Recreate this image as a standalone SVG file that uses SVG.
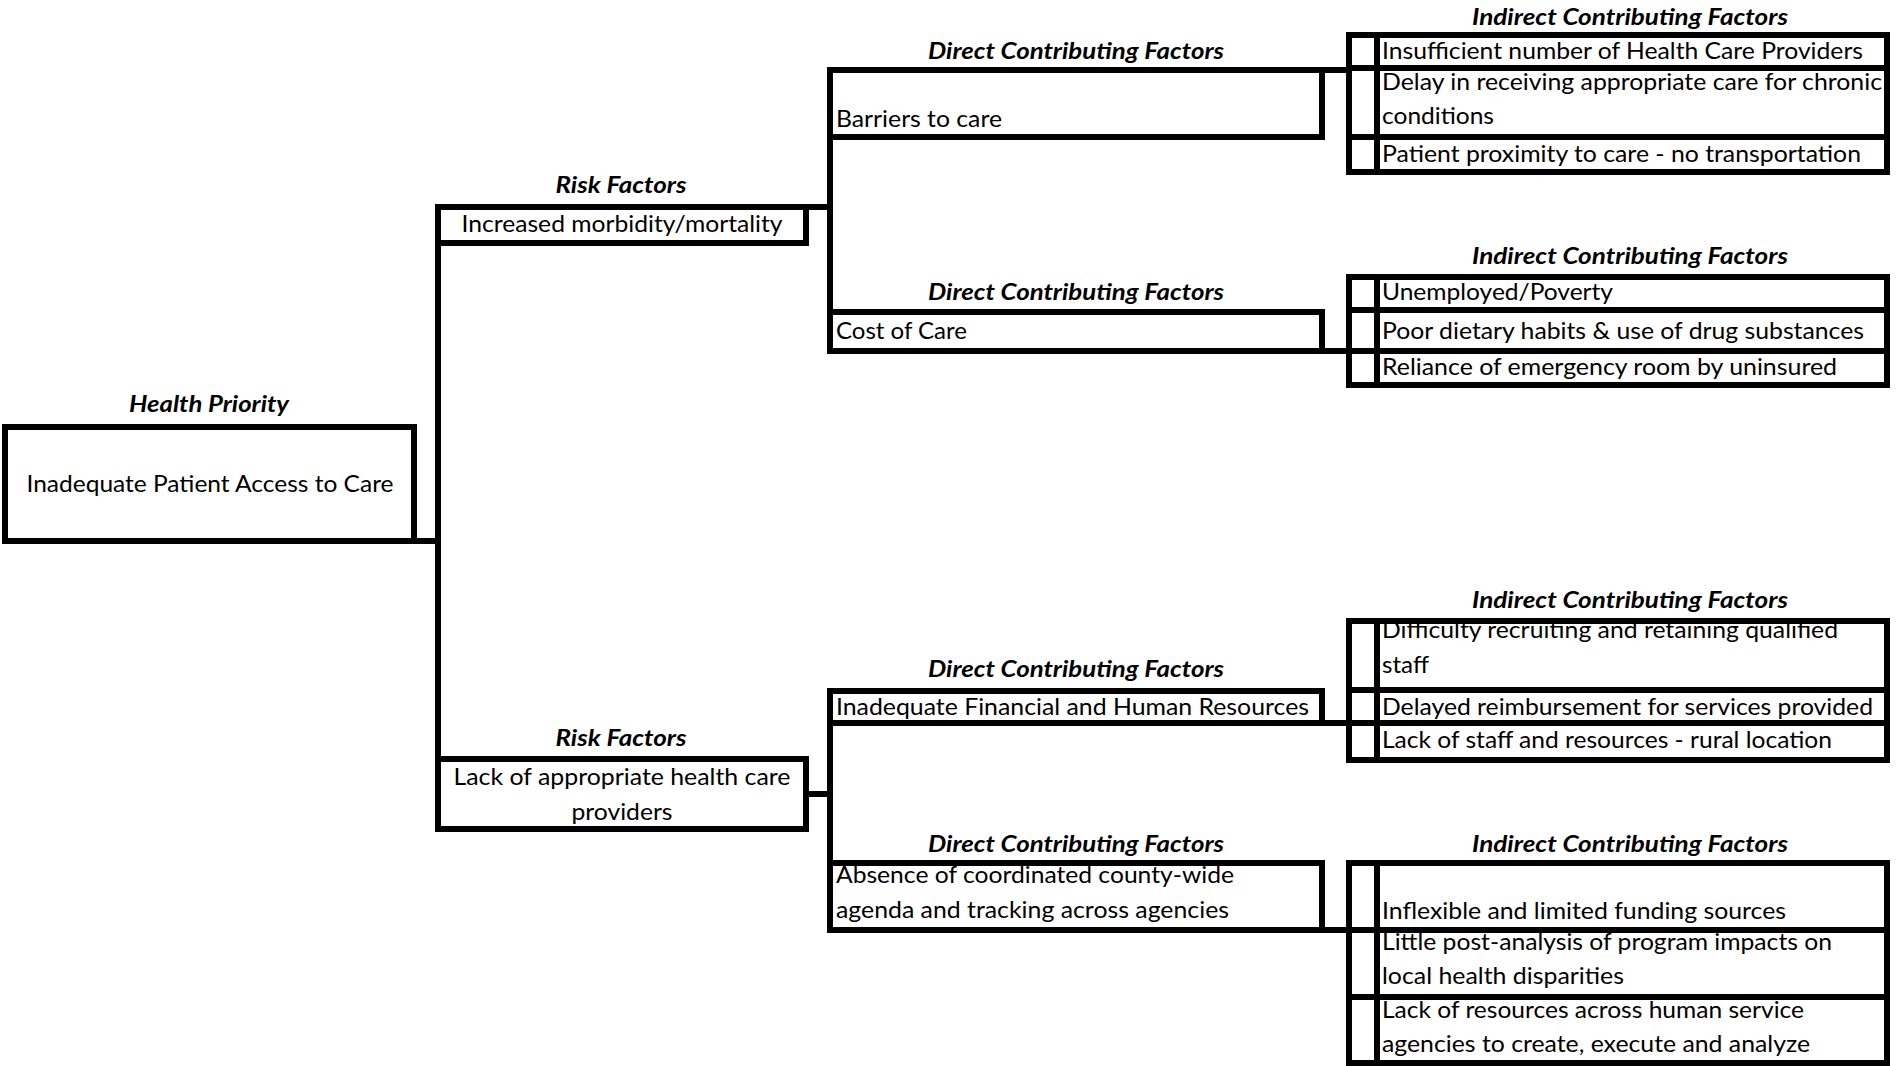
<svg xmlns="http://www.w3.org/2000/svg" width="1897" height="1066" viewBox="0 0 1897 1066">
<style>
.box{fill:#fff;stroke:#000;stroke-width:6}
.ln{fill:none;stroke:#000;stroke-width:6;stroke-linecap:square}
.t{font-family:Lato,"Open Sans",sans-serif;font-size:23px;fill:#000}
.h{font-family:Lato,"Open Sans",sans-serif;font-size:22px;font-weight:bold;font-style:italic;fill:#000}
.c{text-anchor:middle}
</style>
<defs>
<clipPath id="cp-i1b"><rect x="1380" y="71" width="504" height="63"/></clipPath>
<clipPath id="cp-i3a"><rect x="1380" y="624" width="504" height="63"/></clipPath>
<clipPath id="cp-i4b"><rect x="1380" y="933" width="504" height="61"/></clipPath>
<clipPath id="cp-i4c"><rect x="1380" y="1000" width="504" height="60"/></clipPath>
<clipPath id="cp-d4"><rect x="833" y="866" width="486" height="61"/></clipPath>
</defs>
<rect width="1897" height="1066" fill="#fff"/>
<g id="connectors">
<path class="ln" d="M414,541 H438"/>
<path class="ln" d="M438,207 V829"/>
<path class="ln" d="M806,207 H830"/>
<path class="ln" d="M830,70 V351"/>
<path class="ln" d="M1322,70 H1349"/>
<path class="ln" d="M1322,351 H1349"/>
<path class="ln" d="M806,794 H830"/>
<path class="ln" d="M830,691 V930"/>
<path class="ln" d="M1322,723 H1349"/>
<path class="ln" d="M1322,930 H1349"/>
</g>
<g id="health-priority">
<text class="h c" x="209" y="412" textLength="160" lengthAdjust="spacingAndGlyphs">Health Priority</text>
<rect class="box" x="5" y="427" width="409" height="114"/>
<text class="t c" x="210" y="492" textLength="367" lengthAdjust="spacingAndGlyphs">Inadequate Patient Access to Care</text>
</g>
<g id="risk-1">
<text class="h c" x="621" y="193" textLength="131" lengthAdjust="spacingAndGlyphs">Risk Factors</text>
<rect class="box" x="438" y="207" width="368" height="36"/>
<text class="t c" x="622" y="232" textLength="321" lengthAdjust="spacingAndGlyphs">Increased morbidity/mortality</text>
</g>
<g id="risk-2">
<text class="h c" x="621" y="746" textLength="131" lengthAdjust="spacingAndGlyphs">Risk Factors</text>
<rect class="box" x="438" y="759" width="368" height="70"/>
<text class="t c" x="622" y="785" textLength="337" lengthAdjust="spacingAndGlyphs">Lack of appropriate health care</text>
<text class="t c" x="622" y="820" textLength="101" lengthAdjust="spacingAndGlyphs">providers</text>
</g>
<g id="direct-1">
<text class="h c" x="1076" y="59" textLength="296" lengthAdjust="spacingAndGlyphs">Direct Contributing Factors</text>
<rect class="box" x="830" y="70" width="492" height="67"/>
<text class="t" x="836" y="127" textLength="166" lengthAdjust="spacingAndGlyphs">Barriers to care</text>
</g>
<g id="direct-2">
<text class="h c" x="1076" y="300" textLength="296" lengthAdjust="spacingAndGlyphs">Direct Contributing Factors</text>
<rect class="box" x="830" y="312" width="492" height="39"/>
<text class="t" x="836" y="339" textLength="131" lengthAdjust="spacingAndGlyphs">Cost of Care</text>
</g>
<g id="direct-3">
<text class="h c" x="1076" y="677" textLength="296" lengthAdjust="spacingAndGlyphs">Direct Contributing Factors</text>
<rect class="box" x="830" y="691" width="492" height="32"/>
<text class="t" x="836" y="715" textLength="473" lengthAdjust="spacingAndGlyphs">Inadequate Financial and Human Resources</text>
</g>
<g id="direct-4">
<text class="h c" x="1076" y="852" textLength="296" lengthAdjust="spacingAndGlyphs">Direct Contributing Factors</text>
<rect class="box" x="830" y="863" width="492" height="67"/>
<g clip-path="url(#cp-d4)">
<text class="t" x="836" y="883" textLength="398" lengthAdjust="spacingAndGlyphs">Absence of coordinated county-wide</text>
<text class="t" x="836" y="918" textLength="393" lengthAdjust="spacingAndGlyphs">agenda and tracking across agencies</text>
</g>
</g>
<g id="indirect-1-head"><text class="h c" x="1630" y="25" textLength="316" lengthAdjust="spacingAndGlyphs">Indirect Contributing Factors</text></g>
<g id="indirect-1a">
<rect class="box" x="1349" y="35" width="538" height="33"/><path class="ln" d="M1377,35 V68"/>
<text class="t" x="1382" y="59" textLength="481" lengthAdjust="spacingAndGlyphs">Insufficient number of Health Care Providers</text>
</g>
<g id="indirect-1b">
<rect class="box" x="1349" y="68" width="538" height="69"/><path class="ln" d="M1377,68 V137"/>
<g clip-path="url(#cp-i1b)">
<text class="t" x="1382" y="90" textLength="500" lengthAdjust="spacingAndGlyphs">Delay in receiving appropriate care for chronic</text>
<text class="t" x="1382" y="124" textLength="112" lengthAdjust="spacingAndGlyphs">conditions</text>
</g>
</g>
<g id="indirect-1c">
<rect class="box" x="1349" y="137" width="538" height="35"/><path class="ln" d="M1377,137 V172"/>
<text class="t" x="1382" y="162" textLength="479" lengthAdjust="spacingAndGlyphs">Patient proximity to care - no transportation</text>
</g>
<g id="indirect-2-head"><text class="h c" x="1630" y="264" textLength="316" lengthAdjust="spacingAndGlyphs">Indirect Contributing Factors</text></g>
<g id="indirect-2a">
<rect class="box" x="1349" y="277" width="538" height="33"/><path class="ln" d="M1377,277 V310"/>
<text class="t" x="1382" y="300" textLength="231" lengthAdjust="spacingAndGlyphs">Unemployed/Poverty</text>
</g>
<g id="indirect-2b">
<rect class="box" x="1349" y="310" width="538" height="41"/><path class="ln" d="M1377,310 V351"/>
<text class="t" x="1382" y="339" textLength="482" lengthAdjust="spacingAndGlyphs">Poor dietary habits &amp; use of drug substances</text>
</g>
<g id="indirect-2c">
<rect class="box" x="1349" y="351" width="538" height="34"/><path class="ln" d="M1377,351 V385"/>
<text class="t" x="1382" y="375" textLength="455" lengthAdjust="spacingAndGlyphs">Reliance of emergency room by uninsured</text>
</g>
<g id="indirect-3-head"><text class="h c" x="1630" y="608" textLength="316" lengthAdjust="spacingAndGlyphs">Indirect Contributing Factors</text></g>
<g id="indirect-3a">
<rect class="box" x="1349" y="621" width="538" height="69"/><path class="ln" d="M1377,621 V690"/>
<g clip-path="url(#cp-i3a)">
<text class="t" x="1382" y="638" textLength="456" lengthAdjust="spacingAndGlyphs">Difficulty recruiting and retaining qualified</text>
<text class="t" x="1382" y="673" textLength="47" lengthAdjust="spacingAndGlyphs">staff</text>
</g>
</g>
<g id="indirect-3b">
<rect class="box" x="1349" y="690" width="538" height="33"/><path class="ln" d="M1377,690 V723"/>
<text class="t" x="1382" y="715" textLength="491" lengthAdjust="spacingAndGlyphs">Delayed reimbursement for services provided</text>
</g>
<g id="indirect-3c">
<rect class="box" x="1349" y="723" width="538" height="37"/><path class="ln" d="M1377,723 V760"/>
<text class="t" x="1382" y="748" textLength="450" lengthAdjust="spacingAndGlyphs">Lack of staff and resources - rural location</text>
</g>
<g id="indirect-4-head"><text class="h c" x="1630" y="852" textLength="316" lengthAdjust="spacingAndGlyphs">Indirect Contributing Factors</text></g>
<g id="indirect-4a">
<rect class="box" x="1349" y="863" width="538" height="67"/><path class="ln" d="M1377,863 V930"/>
<text class="t" x="1382" y="919" textLength="404" lengthAdjust="spacingAndGlyphs">Inflexible and limited funding sources</text>
</g>
<g id="indirect-4b">
<rect class="box" x="1349" y="930" width="538" height="67"/><path class="ln" d="M1377,930 V997"/>
<g clip-path="url(#cp-i4b)">
<text class="t" x="1382" y="950" textLength="450" lengthAdjust="spacingAndGlyphs">Little post-analysis of program impacts on</text>
<text class="t" x="1382" y="984" textLength="242" lengthAdjust="spacingAndGlyphs">local health disparities</text>
</g>
</g>
<g id="indirect-4c">
<rect class="box" x="1349" y="997" width="538" height="66"/><path class="ln" d="M1377,997 V1063"/>
<g clip-path="url(#cp-i4c)">
<text class="t" x="1382" y="1018" textLength="422" lengthAdjust="spacingAndGlyphs">Lack of resources across human service</text>
<text class="t" x="1382" y="1052" textLength="428" lengthAdjust="spacingAndGlyphs">agencies to create, execute and analyze</text>
</g>
</g>
</svg>
